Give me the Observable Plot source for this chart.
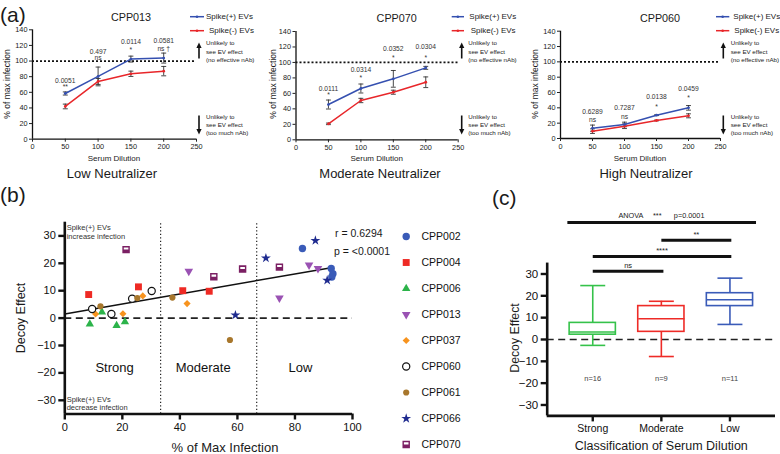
<!DOCTYPE html>
<html><head><meta charset="utf-8">
<script src="https://cdn.jsdelivr.net/npm/d3@7"></script>
<script src="https://cdn.jsdelivr.net/npm/@observablehq/plot@0.6"></script>
<style>
body{margin:0;background:#fff;font-family:"Liberation Sans",Arial,Helvetica,sans-serif;}
#fig{position:relative;width:780px;height:454px;overflow:hidden;background:#fff;}
.abs{position:absolute;white-space:nowrap;line-height:1;color:#1a1a1a;}
</style></head><body><div id="fig"></div>
<script>
const FONT = '"Liberation Sans", Arial, Helvetica, sans-serif';
const BLUE = "#3550b0", RED = "#e8262a";

// ---------------- Panel (a) data ----------------
const dilutions = [50, 100, 150, 200];
const dilutionTicks = [0, 50, 100, 150, 200, 250];
const pctTicks = [0, 20, 40, 60, 80, 100, 120, 140];

const cpp013Pos = [58.5, 80.3, 102.5, 103.8];
const cpp013PosErr = [2, 12, 3.8, 6.4];
const cpp013Neg = [41.9, 73.9, 83.7, 87.1];
const cpp013NegErr = [3, 3.8, 3.4, 6];
const cpp013P = ["0.0051", "0.497", "0.0114", "0.0581"];
const cpp013Sig = ["**", "ns", "*", "ns †"];
const cpp013PY = [75.2, 112.3, 124.2, 125.5];
const cpp013SigY = [66.5, 104.6, 114.5, 115.5];

const cpp070Pos = [45.6, 66.3, 78.8, 93];
const cpp070PosErr = [5.8, 5.8, 10.8, 1.9];
const cpp070Neg = [20.6, 50.8, 61.5, 74.4];
const cpp070NegErr = [1, 2.8, 2.6, 6.9];
const cpp070P = ["0.0111", "0.0314", "0.0352", "0.0304"];
const cpp070Sig = ["*", "*", "*", "*"];
const cpp070PY = [65.9, 90.4, 117.6, 119.6];
const cpp070SigY = [58.3, 80.3, 106.5, 106.5];

const cpp060Pos = [13.5, 18.3, 30.4, 40];
const cpp060PosErr = [4, 3, 0.5, 3];
const cpp060Neg = [9.6, 16, 23.5, 29.6];
const cpp060NegErr = [3, 3, 0.5, 2.6];
const cpp060P = ["0.6289", "0.7287", "0.0138", "0.0459"];
const cpp060Sig = ["ns", "ns", "*", "*"];
const cpp060PY = [35.2, 39.6, 53.9, 64.4];
const cpp060SigY = [24.4, 28.3, 41.6, 52.4];

// ---------------- Panel (b) data ----------------
const seriesNames = ["CPP002", "CPP004", "CPP006", "CPP013", "CPP037", "CPP060", "CPP061", "CPP066", "CPP070"];
const x002 = [82.6, 92.6, 93.2, 92.8], y002 = [25.4, 18.1, 16.2, 15.0];
const x004 = [8.3, 25.6, 41.0, 50.2], y004 = [8.6, 11.4, 10.0, 9.8];
const x006 = [8.7, 12.9, 18.0, 20.9], y006 = [-2.2, 2.2, -2.7, -1.4];
const x013 = [43.1, 74.6, 84.9, 88.0], y013 = [17.1, 7.3, 19.4, 18.1];
const x037 = [10.7, 20.2, 27.1, 42.5], y037 = [1.5, 1.6, 8.1, 5.3];
const x060 = [9.5, 16.2, 23.4, 30.2], y060 = [3.3, 1.5, 7.1, 9.9];
const x061 = [12.4, 25.2, 37.4, 57.4], y061 = [4.3, 7.3, 7.5, -8.0];
const x066 = [59.3, 69.9, 87.1, 91.2], y066 = [1.1, 21.9, 28.3, 13.8];
const x070 = [21.3, 51.8, 61.8, 74.6], y070 = [25.0, 15.1, 17.9, 18.6];
const fitX = [0, 92.6], fitY = [1.5, 18.4];
const classBounds = [33.3, 66.7];
const regionNames = ["Strong", "Moderate", "Low"];
const regionX = [17.3, 48.1, 81.9];
const regionY = -18.3;

// ---------------- Panel (c) data ----------------
const classes = ["Strong", "Moderate", "Low"];
const classMin = [-2.7, -7.8, 6.9];
const classQ1 = [2.2, 3.5, 15.3];
const classMedian = [3.4, 9.5, 18.2];
const classQ3 = [7.6, 15.3, 21.2];
const classMax = [24.7, 17.5, 28.1];
const classN = [16, 9, 11];
const classColors = ["#35c24a", "#ee2b27", "#3a5bb8"];
const sigLabels = ["**", "****", "ns"];
const sigFrom = [1, 0, 0];
const sigTo = [2.02, 2.02, 1.03];
const sigLevel = [45.5, 38, 31.3];
const anovaParts = ["ANOVA", "***", "p=0.0001"];
const anovaPartX = [0.556, 0.94, 1.405];
const anovaSpan = [-0.37, 2.38];
const anovaLevel = 53.6;

// ---------------- helpers ----------------
const fig = document.getElementById("fig");
function put(node, left, top) {
  node.style.position = "absolute"; node.style.left = left + "px"; node.style.top = top + "px";
  fig.appendChild(node);
}
function txt(s, x, y, o = {}) {
  const size = o.size || 12, anchor = o.anchor || "middle";
  const d = document.createElement("div");
  d.className = "abs"; d.textContent = s;
  d.style.fontSize = size + "px";
  if (o.color) d.style.color = o.color;
  const tx = anchor === "middle" ? "-50%" : anchor === "end" ? "-100%" : "0";
  d.style.left = x + "px"; d.style.top = y + "px";
  d.style.transform = `translate(${tx},-50%)` + (o.rotate ? ` rotate(${o.rotate}deg)` : "");
  fig.appendChild(d);
}

// ---------------- Panel (a) ----------------
function subplotA(c) {
  const rows = dilutions.map((d, i) => ({d, pos: c.pos[i], pe: c.posErr[i], neg: c.neg[i], ne: c.negErr[i],
    p: c.p[i], py: c.pY[i], s: c.sig[i], sy: c.sigY[i]}));
  const cap = 3.8;
  const err = (k, e) => [
    Plot.ruleX(rows, {x: "d", y1: r => r[k] - r[e], y2: r => r[k] + r[e], stroke: "#333", strokeWidth: 0.9}),
    Plot.link(rows, {x1: r => r.d - cap, x2: r => r.d + cap, y1: r => r[k] - r[e], y2: r => r[k] - r[e], stroke: "#333", strokeWidth: 0.9}),
    Plot.link(rows, {x1: r => r.d - cap, x2: r => r.d + cap, y1: r => r[k] + r[e], y2: r => r[k] + r[e], stroke: "#333", strokeWidth: 0.9})
  ];
  return Plot.plot({
    width: c.w, height: c.h, marginLeft: c.ml, marginRight: c.mr, marginTop: c.mt, marginBottom: c.mb,
    style: {fontFamily: FONT, fontSize: "7.3px", color: "#222", background: "transparent", overflow: "visible"},
    x: {domain: [0, 250]}, y: {domain: [0, 140]},
    marks: [
      Plot.ruleY([100], {stroke: "#111", strokeWidth: 1.7, strokeDasharray: "2,2"}),
      ...err("neg", "ne"), ...err("pos", "pe"),
      Plot.line(rows, {x: "d", y: "neg", stroke: RED, strokeWidth: 1.5}),
      Plot.line(rows, {x: "d", y: "pos", stroke: BLUE, strokeWidth: 1.5}),
      Plot.dot(rows, {x: "d", y: "neg", r: 1.4, fill: RED}),
      Plot.dot(rows, {x: "d", y: "pos", r: 1.4, fill: BLUE}),
      Plot.text(rows, {x: "d", y: "py", text: "p", fontSize: 6.7, fill: "#333"}),
      Plot.text(rows, {x: "d", y: "sy", text: "s", fontSize: 6.7, fill: "#333"}),
      Plot.ruleX([0], {stroke: "#111", strokeWidth: 1.3}),
      Plot.ruleY([0], {stroke: "#111", strokeWidth: 1.3}),
      Plot.axisX({ticks: dilutionTicks, tickSize: 3, tickPadding: 2, label: null}),
      Plot.axisY({ticks: pctTicks, tickSize: 3, tickPadding: 2, label: null})
    ]
  });
}
put(subplotA({w: 200, h: 166, ml: 32, mr: 4, mt: 29.3, mb: 27.3,
  pos: cpp013Pos, posErr: cpp013PosErr, neg: cpp013Neg, negErr: cpp013NegErr,
  p: cpp013P, pY: cpp013PY, sig: cpp013Sig, sigY: cpp013SigY}), 0, 0);
put(subplotA({w: 200, h: 166, ml: 32.5, mr: 5.3, mt: 31, mb: 26.7,
  pos: cpp070Pos, posErr: cpp070PosErr, neg: cpp070Neg, negErr: cpp070NegErr,
  p: cpp070P, pY: cpp070PY, sig: cpp070Sig, sigY: cpp070SigY}), 263, 0);
put(subplotA({w: 200, h: 166, ml: 33, mr: 7, mt: 30.7, mb: 28,
  pos: cpp060Pos, posErr: cpp060PosErr, neg: cpp060Neg, negErr: cpp060NegErr,
  p: cpp060P, pY: cpp060PY, sig: cpp060Sig, sigY: cpp060SigY}), 527, 0);

// panel (a) texts, legends and arrows
txt("(a)", 0, 14, {size: 21, anchor: "start"});
const aTitles = [["CPP013", 131, 17], ["CPP070", 396.7, 18], ["CPP060", 660, 18]];
aTitles.forEach(([s, x, y]) => txt(s, x, y, {size: 10.8}));
[[7, 84], [273.3, 84], [535, 84]].forEach(([x, y]) => txt("% of max infection", x, y, {size: 8.5, rotate: -90}));
[[114, 159], [376.7, 159], [640, 159]].forEach(([x, y]) => txt("Serum Dilution", x, y, {size: 8}));
[["Low Neutralizer", 112, 173], ["Moderate Neutralizer", 380, 173], ["High Neutralizer", 646, 172.5]].forEach(([s, x, y]) => txt(s, x, y, {size: 13}));

const ov = d3.create("svg").attr("width", 780).attr("height", 454).style("position", "absolute").style("left", "0").style("top", "0").style("pointer-events", "none");
const legA = [[190, 204, 206, 209, 199, 206], [451.7, 464, 469.3, 470.7, 461.7, 468.3], [716, 729.3, 733.3, 734.3, 723.3, 730.7]];
legA.forEach(([l1, l2, t1, t2, ax, tx]) => {
  ov.append("line").attr("x1", l1).attr("x2", l2).attr("y1", 16.7).attr("y2", 16.7).attr("stroke", BLUE).attr("stroke-width", 1.5);
  ov.append("circle").attr("cx", (l1 + l2) / 2).attr("cy", 16.7).attr("r", 1.3).attr("fill", BLUE);
  ov.append("line").attr("x1", l1).attr("x2", l2).attr("y1", 30.7).attr("y2", 30.7).attr("stroke", RED).attr("stroke-width", 1.5);
  ov.append("circle").attr("cx", (l1 + l2) / 2).attr("cy", 30.7).attr("r", 1.3).attr("fill", RED);
  txt("Spike(+) EVs", t1, 16.7, {size: 8, anchor: "start"});
  txt("Spike(-) EVs", t2, 30.7, {size: 8, anchor: "start"});
  // up arrow
  ov.append("line").attr("x1", ax).attr("x2", ax).attr("y1", 58.5).attr("y2", 47).attr("stroke", "#111").attr("stroke-width", 1.6);
  ov.append("path").attr("d", `M${ax - 2.6},${48} L${ax + 2.6},${48} L${ax},${42.5} Z`).attr("fill", "#111");
  // down arrow
  ov.append("line").attr("x1", ax).attr("x2", ax).attr("y1", 115.5).attr("y2", 130).attr("stroke", "#111").attr("stroke-width", 1.6);
  ov.append("path").attr("d", `M${ax - 2.6},${129} L${ax + 2.6},${129} L${ax},${134.5} Z`).attr("fill", "#111");
  [["Unlikely to", 43.3], ["see EV effect", 51.7], ["(no effective nAb)", 60]].forEach(([s, y]) => txt(s, tx, y, {size: 6.2, anchor: "start"}));
  [["Unlikely to", 116.7], ["see EV effect", 124.7], ["(too much nAb)", 132.5]].forEach(([s, y]) => txt(s, tx, y, {size: 6.2, anchor: "start"}));
});

// ---------------- Panel (b) ----------------
const symDown = {draw(ctx, size) {
  const s = Math.sqrt(size / (3 * Math.sqrt(3)));
  ctx.moveTo(0, 2 * s); ctx.lineTo(-Math.sqrt(3) * s, -s); ctx.lineTo(Math.sqrt(3) * s, -s); ctx.closePath();
}};
const symStripe = {draw(ctx, size) {
  const h = Math.sqrt(size) / 2;
  ctx.moveTo(-h, -h); ctx.lineTo(h, -h); ctx.lineTo(h, h); ctx.lineTo(-h, h); ctx.closePath();
  const ix = h * 0.62, y1 = -h * 0.58, y2 = -h * 0.02;
  ctx.moveTo(-ix, y1); ctx.lineTo(-ix, y2); ctx.lineTo(ix, y2); ctx.lineTo(ix, y1); ctx.closePath();
}};
const seriesStyle = {
  CPP002: {symbol: "circle", fill: "#3a5bb8", r: 3.7},
  CPP004: {symbol: "square", fill: "#ee2a24", r: 3.9},
  CPP006: {symbol: "triangle", fill: "#2cb34a", r: 3.1},
  CPP013: {symbol: symDown, fill: "#9a52b3", r: 3.2},
  CPP037: {symbol: "diamond2", fill: "#f7931e", r: 3.2},
  CPP060: {symbol: "circle", fill: "white", stroke: "#111", strokeWidth: 1.2, r: 3.6},
  CPP061: {symbol: "circle", fill: "#a8772c", r: 3.1},
  CPP066: {symbol: "star", fill: "#1f2b8f", r: 3.1},
  CPP070: {symbol: symStripe, fill: "#7b1f63", r: 4.2}
};
const seriesX = [x002, x004, x006, x013, x037, x060, x061, x066, x070];
const seriesY = [y002, y004, y006, y013, y037, y060, y061, y066, y070];
const points = seriesNames.flatMap((name, k) => seriesX[k].map((x, i) => ({name, x, y: seriesY[k][i]})));
const dotMarks = seriesNames.map(name => Plot.dot(points.filter(p => p.name === name), {
  x: "x", y: "y", ...seriesStyle[name], stroke: seriesStyle[name].stroke || "none"}));

const plotB = Plot.plot({
  width: 360, height: 264, marginLeft: 64.3, marginRight: 8, marginTop: 31.7, marginBottom: 40.5,
  style: {fontFamily: FONT, fontSize: "11px", color: "#111", background: "transparent", overflow: "visible"},
  x: {domain: [0, 100]}, y: {domain: [-35, 35]},
  marks: [
    Plot.ruleX(classBounds, {y1: -35, y2: 35, stroke: "#222", strokeWidth: 1.2, strokeDasharray: "1.2,2.3"}),
    Plot.ruleY([0], {x1: 0, x2: 100, stroke: "#222", strokeWidth: 1.6, strokeDasharray: "7,4.5"}),
    Plot.line(fitX.map((x, i) => ({x, y: fitY[i]})), {x: "x", y: "y", stroke: "#111", strokeWidth: 1.5}),
    ...dotMarks,
    Plot.text(regionNames, {x: (d, i) => regionX[i], y: () => regionY, text: d => d, fontSize: 13, fill: "#111"}),
    Plot.ruleX([0], {stroke: "#111", strokeWidth: 2.6}),
    Plot.ruleY([-35], {stroke: "#111", strokeWidth: 2.6}),
    Plot.axisX({ticks: [0, 20, 40, 60, 80, 100], tickSize: 6, tickPadding: 3, strokeWidth: 2.4, label: null}),
    Plot.axisY({ticks: [-30, -20, -10, 0, 10, 20, 30], tickSize: 6, tickPadding: 3, strokeWidth: 2.4, label: null})
  ]
});
put(plotB, 0, 190);
txt("(b)", 0, 194, {size: 21, anchor: "start"});
txt("Decoy Effect", 20.7, 318, {size: 12.5, rotate: -90});
txt("% of Max Infection", 225, 446.5, {size: 13});
txt("Spike(+) EVs", 66.7, 228.3, {size: 7.5, anchor: "start", color: "#333"});
txt("increase infection", 66.7, 237, {size: 7.5, anchor: "start", color: "#333"});
txt("Spike(+) EVs", 66.7, 399.5, {size: 7.5, anchor: "start", color: "#333"});
txt("decrease infection", 66.7, 408, {size: 7.5, anchor: "start", color: "#333"});
txt("r = 0.6294", 335, 232.5, {size: 10.5, anchor: "start"});
txt("p = <0.0001", 334, 250.5, {size: 10.5, anchor: "start"});

// legend for (b)
const legendB = Plot.plot({
  width: 90, height: 236, marginLeft: 10.7, marginRight: 64, marginTop: 13.7, marginBottom: 7.3,
  style: {fontFamily: FONT, fontSize: "10.5px", color: "#111", background: "transparent", overflow: "visible"},
  x: {domain: [0, 1], axis: null}, y: {type: "point", domain: seriesNames, padding: 0, axis: null},
  marks: [
    ...seriesNames.map(name => Plot.dot([name], {x: () => 0, y: d => d, ...seriesStyle[name], stroke: seriesStyle[name].stroke || "none"})),
    Plot.text(seriesNames, {x: () => 1, y: d => d, text: d => d, textAnchor: "start", fontSize: 10.5, fill: "#111"})
  ]
});
put(legendB, 395, 219);

// ---------------- Panel (c) ----------------
const boxes = classes.map((name, i) => ({i, name, min: classMin[i], q1: classQ1[i], med: classMedian[i], q3: classQ3[i], max: classMax[i], n: classN[i], c: classColors[i]}));
const bars = sigLabels.map((s, i) => ({s, x1: sigFrom[i], x2: sigTo[i], y: sigLevel[i]}));
const halfBox = 0.337, halfCap = 0.182;
const xDomainC = [-0.664, 2.664];
const plotC = Plot.plot({
  width: 290, height: 259, marginLeft: 56.7, marginRight: 5, marginTop: 13, marginBottom: 38.6,
  style: {fontFamily: FONT, fontSize: "11px", color: "#111", background: "transparent", overflow: "visible"},
  x: {domain: xDomainC}, y: {domain: [-35, 60]},
  marks: [
    Plot.ruleY([0], {stroke: "#222", strokeWidth: 1.6, strokeDasharray: "7,4.5"}),
    Plot.ruleX(boxes, {x: "i", y1: "min", y2: "q1", stroke: "c", strokeWidth: 1.6}),
    Plot.ruleX(boxes, {x: "i", y1: "q3", y2: "max", stroke: "c", strokeWidth: 1.6}),
    Plot.link(boxes, {x1: d => d.i - halfCap, x2: d => d.i + halfCap, y1: "min", y2: "min", stroke: "c", strokeWidth: 1.6}),
    Plot.link(boxes, {x1: d => d.i - halfCap, x2: d => d.i + halfCap, y1: "max", y2: "max", stroke: "c", strokeWidth: 1.6}),
    Plot.rect(boxes, {x1: d => d.i - halfBox, x2: d => d.i + halfBox, y1: "q1", y2: "q3", fill: "white", stroke: "c", strokeWidth: 1.6}),
    Plot.link(boxes, {x1: d => d.i - halfBox, x2: d => d.i + halfBox, y1: "med", y2: "med", stroke: "c", strokeWidth: 1.6}),
    Plot.text(boxes, {x: "i", y: () => -18, text: d => "n=" + d.n, fontSize: 7.5, fill: "#444"}),
    Plot.link(bars, {x1: "x1", x2: "x2", y1: "y", y2: "y", stroke: "#111", strokeWidth: 3}),
    Plot.text(bars, {x: d => (d.x1 + d.x2) / 2, y: "y", text: "s", dy: -6, fontSize: 7.5, fill: "#222"}),
    Plot.link([anovaLevel], {x1: () => anovaSpan[0], x2: () => anovaSpan[1], y1: d => d, y2: d => d, stroke: "#111", strokeWidth: 3}),
    Plot.text(anovaParts, {x: (d, i) => anovaPartX[i], y: () => anovaLevel, text: d => d, dy: -7, fontSize: 7.3, fill: "#222"}),
    Plot.ruleX([xDomainC[0]], {y1: -35, y2: 35, stroke: "#111", strokeWidth: 2.6}),
    Plot.ruleY([-35], {stroke: "#111", strokeWidth: 2.6}),
    Plot.axisX({ticks: [0, 1, 2], tickFormat: i => classes[i], tickSize: 6, tickPadding: 3, strokeWidth: 2.4, label: null, fontSize: 10.5}),
    Plot.axisY({ticks: [-30, -20, -10, 0, 10, 20, 30], tickSize: 6, tickPadding: 3, strokeWidth: 2.4, label: null, fontSize: 11.5})
  ]
});
put(plotC, 490, 195);
txt("(c)", 492, 197, {size: 21, anchor: "start"});
txt("Decoy Effect", 515, 338, {size: 12.3, rotate: -90});
txt("Classification of Serum Dilution", 661.3, 446, {size: 12.5});

fig.appendChild(ov.node());
</script></body></html>
